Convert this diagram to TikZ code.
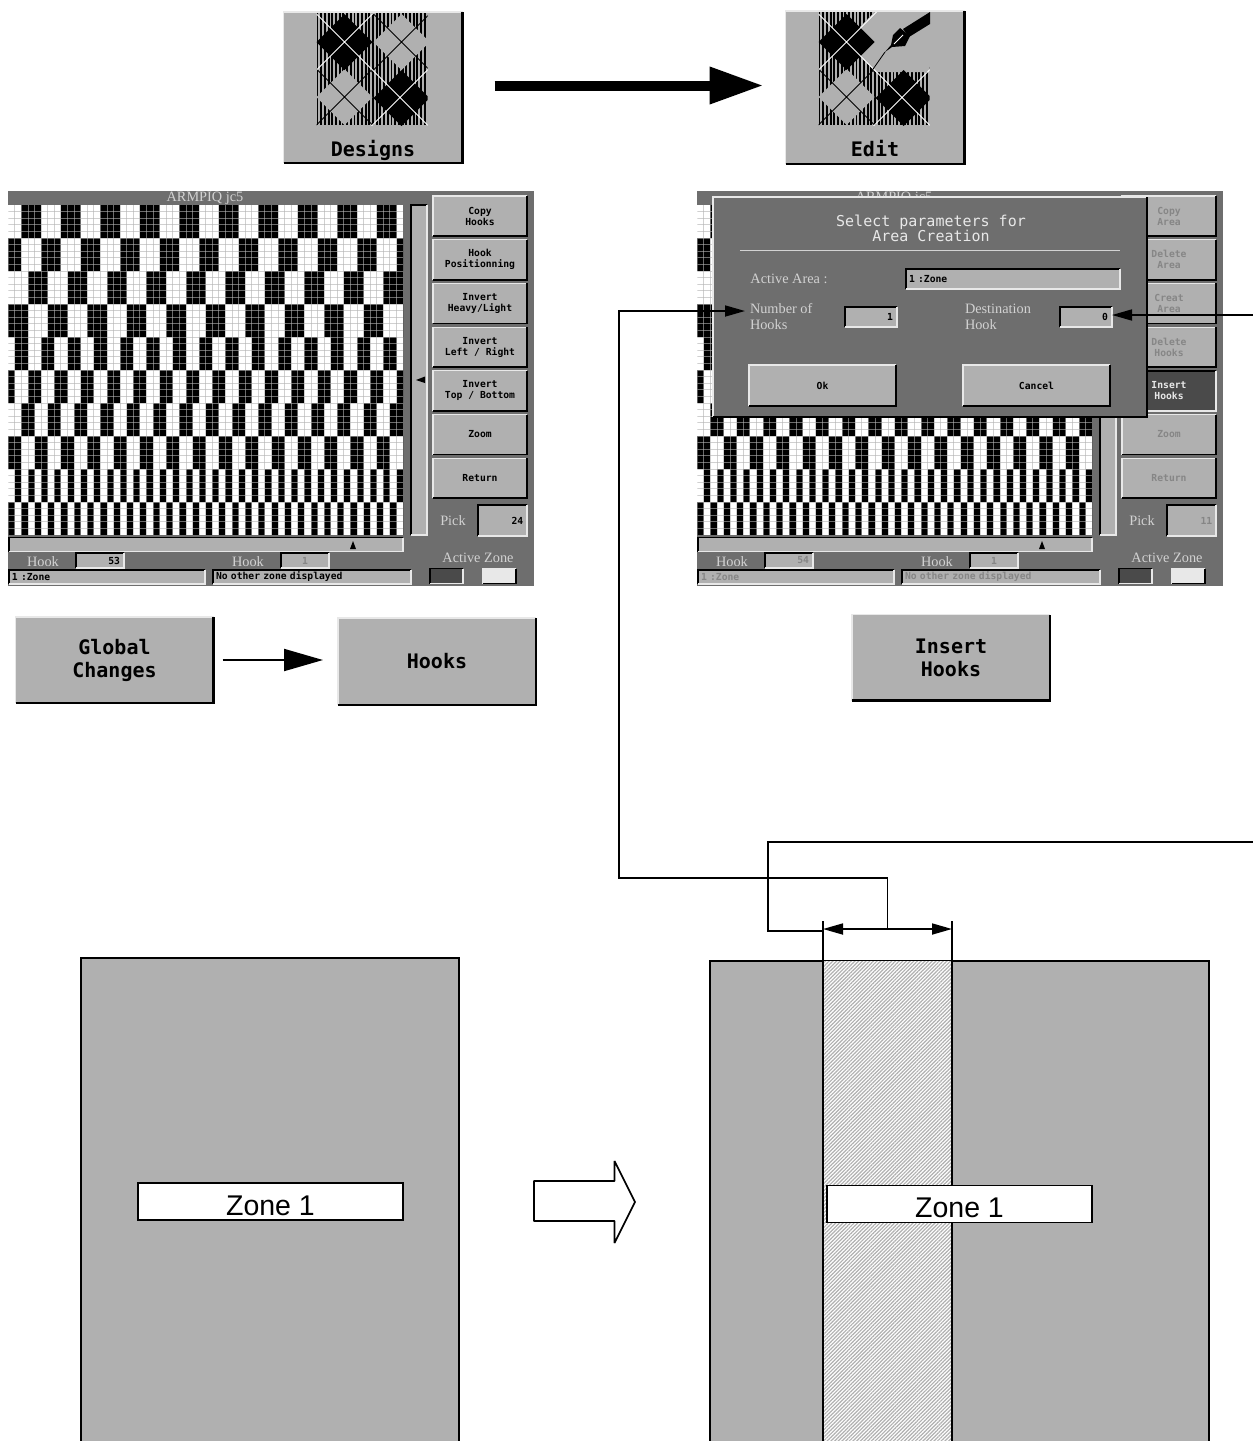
\documentclass[tikz,border=0pt]{standalone}
\usepackage{fontspec}
\setmainfont{Liberation Serif}
\setsansfont{Liberation Sans}
\setmonofont{DejaVu Sans Mono}
\usepackage{tikz}
\usetikzlibrary{arrows.meta,positioning,calc,patterns.meta}
\definecolor{btngray}{HTML}{B0B0B0}
\definecolor{panelgray}{HTML}{6E6E6E}
\definecolor{darkgray}{HTML}{4A4A4A}
\definecolor{lighttxt}{HTML}{D2D2D2}
\definecolor{fadedtxt}{HTML}{868686}
\definecolor{lightbev}{HTML}{E8E8E8}
\newcommand{\bevelup}[2][1.5pt]{%
  \draw[lightbev,line width=1.2pt] (#2.south west) |- (#2.north east);
  \draw[black,line width=#1] (#2.south west) -| (#2.north east);}
\newcommand{\beveldown}[1]{%
  \draw[black,line width=1.5pt] (#1.south west) |- (#1.north east);
  \draw[lightbev,line width=1.5pt] (#1.south west) -| (#1.north east);}
% woven cloth on the screens
\newcommand{\weave}[1]{%
  \begin{scope}[shift={(#1,205)},x=6.58pt,y=-6.6pt]
    \fill[white] (0,0) rectangle (60,50);
    \clip (0,0) rectangle (60,50);
    \foreach \r/\p/\s/\w in {0/6/2/3,5/6/-1/3,10/6/3/3,15/6/0/3,20/4/1/2,
                             25/4/-1/2,30/4/2/2,35/4/0/2,40/2/1/1,45/2/0/1} {
      \foreach \k in {0,...,30}
        \fill[black] ({\s+\k*\p},\r) rectangle ++(\w,5);
    }
    \foreach \c in {1,...,59}
      \draw[gridline] (\c,0) -- (\c,50);
    \foreach \r in {1,...,49}
      \draw[gridline] (0,\r) -- (60,\r);
  \end{scope}}
% argyle picture on the two large buttons
\newcommand{\argyle}[2]{%
  \begin{scope}[shift={(#1,12)}]
    \clip (0,0) rectangle (111,113);
    \foreach \s in {0,...,30}
      \draw[black,line width=1.9pt] ({\s*3.7+1},0) -- ({\s*3.7+1},113);
    \fill[btngray] (85,2) -- (113,30) -- (85,58) -- (57,30) -- cycle;
    \fill[btngray] (28,57) -- (56,85) -- (28,113) -- (0,85) -- cycle;
    \draw[black,line width=.8pt] (115,0) -- (55,60) (57,2) -- (113,58);
    \draw[black,line width=.8pt] (0,57) -- (56,113) (56,57) -- (0,113);
    #2
    \fill[black] (28,2) -- (56,30) -- (28,58) -- (0,30) -- cycle;
    \fill[black] (85,58) -- (113,86) -- (85,114) -- (57,86) -- cycle;
    \draw[white,line width=1pt] (0,2) -- (112,114) (58,0) -- (0,58) (112,57) -- (55,114);
  \end{scope}}
% everything of a screen but its button column
\newcommand{\panelbody}[5]{%
  \begin{scope}[shift={(#2,0)}]
    \fill[panelgray] (8,191) rectangle (533.5,585.5);
    \weave{8.3}
    \node (#1title) [panellbl] at (205,198) {ARMPIQ jc5};
    \node (#1vslide) [fieldbox,minimum width=16pt,minimum height=330pt] at (419,370) {};
    \node (#1hslide) [fieldbox,minimum width=394pt,minimum height=14pt] at (206,544.5) {};
    \fill[black] (416,380) -- (425,376.5) -- (425,383) -- cycle;
    \fill[black] (353,541) -- (356,549) -- (350,549) -- cycle;
    \node (#1pick) [panellbl] at (453,521) {Pick};
    \node (#1pickbox) [fieldbox,text=#5,minimum height=31pt,
      right=12.5pt of #1pick,yshift=.5pt,align=right,text width=41pt,inner xsep=4pt] {#3};
    \node (#1hooka) [panellbl] at (43,562) {Hook};
    \node (#1hookabox) [fieldbox,text=#5,minimum height=15pt,
      align=right,text width=40pt,inner xsep=4pt] at (100,560.5) {#4};
    \node (#1hookb) [panellbl] at (248,562) {Hook};
    \node (#1hookbbox) [fieldbox,text=fadedtxt,minimum width=48pt,minimum height=15pt] at (305,560.5) {1};
    \node (#1statusa) [fieldbox,text=#5,minimum height=14pt,text width=190pt,align=left,inner xsep=3pt] at (107,577) {1 :Zone};
    \node (#1statusb) [fieldbox,text=#5,minimum height=14pt,text width=192pt,align=left,inner xsep=3pt] at (312,577) {No other zone displayed};
    \node (#1active) [panellbl] at (478,558) {Active Zone};
    \node (#1zonea) [fieldbox,fill=darkgray,minimum width=33pt,minimum height=15pt] at (446.5,576) {};
    \node (#1zoneb) [fieldbox,fill=lightbev,minimum width=33pt,minimum height=15pt] at (499.5,576) {};
    \foreach \b in {vslide,hslide,pickbox,hookabox,hookbbox,statusa,statusb,zonea} {
      \beveldown{#1\b}
    }
    \bevelup{#1zoneb}
  \end{scope}}

\begin{document}
\begin{tikzpicture}[
  x=1pt, y=-1pt,
  >={Triangle[length=20pt,width=11pt]},
  every node/.style={outer sep=0pt,inner sep=0pt},
  gridline/.style={white!70!black,opacity=.6,line width=.9pt},
  panellbl/.style={text=lighttxt,font=\fontsize{14.3}{16}\selectfont},
  fieldbox/.style={fill=btngray,font=\fontsize{9.7}{11}\ttfamily\bfseries},
  panelbtn/.style={fill=btngray,minimum width=94pt,minimum height=40pt,align=center,
    font=\fontsize{9.7}{11}\ttfamily\bfseries},
  fadedbtn/.style={panelbtn,text=fadedtxt},
  bigbtn/.style={fill=btngray,minimum width=198pt,minimum height=86pt,align=center,
    font=\fontsize{20}{23}\ttfamily\bfseries},
  iconbtn/.style={fill=btngray,minimum width=179pt,minimum height=151pt},
  iconlbl/.style={font=\fontsize{20}{23}\ttfamily\bfseries,text depth=4.5pt},
  leader/.style={line width=1.7pt},
  zonebox/.style={draw=black,line width=1.7pt,fill=white,minimum width=265pt,minimum height=37pt,
    text height=27pt,text depth=0pt,font=\fontsize{28.5}{30}\sffamily},
  sheet/.style={draw=black,line width=1.7pt,fill=btngray}
]
  \useasboundingbox (0,0) rectangle (1253,1441);

  % Top buttons
  \node (designsbtn) [iconbtn] at (373,87.5) {};
  \node (editbtn) [iconbtn,minimum height=153pt] at (875,87.5) {};
  \argyle{316.5}{}
  \argyle{818.5}{\fill[btngray] (56,0) -- (111,0) -- (111,60) -- (57,60) -- (27,30) -- cycle;}
  \node (designslbl) [iconlbl,above=2pt of designsbtn.south] {Designs};
  \node (editlbl) [iconlbl,above=3pt of editbtn.south] {Edit};
  \bevelup[2.5pt]{designsbtn}
  \bevelup[2.5pt]{editbtn}
  % pen
  \draw[black,line width=.8pt] (871,72) -- (885,52);
  \fill[black] (885,52) -- (892,47) -- (905,46) -- (910,36) -- (900,28) -- (893,35) -- (891,45) -- cycle;
  \fill[black] (903,29) -- (930,12) -- (930,24) -- (909,37) -- cycle;
  \draw[white,line width=.8pt] (894,44) -- (903,35);
  \draw[line width=10pt,-{Triangle[length=54pt,width=35pt]},shorten <=32pt,shorten >=22pt]
    ([yshift=2pt]designsbtn.east) -- ([yshift=2pt]editbtn.west);

  % Left screen
  \panelbody{l}{0}{24}{53}{black}
  \node (lcopy) [panelbtn] at (480,216) {Copy\\Hooks};
  \node (lhook) [panelbtn,below=3.7pt of lcopy] {Hook\\Positionning};
  \node (lheavy) [panelbtn,below=3.7pt of lhook] {Invert\\Heavy/Light};
  \node (lleft) [panelbtn,below=3.7pt of lheavy] {Invert\\Left / Right};
  \node (ltop) [panelbtn,below=3.7pt of lleft] {Invert\\Top / Bottom};
  \node (lzoom) [panelbtn,below=3.7pt of ltop] {Zoom};
  \node (lreturn) [panelbtn,below=3.7pt of lzoom] {Return};
  \foreach \b in {lcopy,lhook,lheavy,lleft,ltop,lzoom,lreturn} {
    \bevelup[1.8pt]{\b}
  }

  % Right screen
  \panelbody{r}{689}{11}{54}{fadedtxt}
  \node (rcopy) [fadedbtn] at (1169,216) {Copy\\Area};
  \node (rdela) [fadedbtn,below=3.7pt of rcopy] {Delete\\Area};
  \node (rcreat) [fadedbtn,below=3.7pt of rdela] {Creat\\Area};
  \node (rdelh) [fadedbtn,below=3.7pt of rcreat] {Delete\\Hooks};
  \node (rinsert) [panelbtn,fill=darkgray,text=lightbev,below=3.7pt of rdelh] {Insert\\Hooks};
  \node (rzoom) [fadedbtn,below=3.7pt of rinsert] {Zoom};
  \node (rreturn) [fadedbtn,below=3.7pt of rzoom] {Return};
  \foreach \b in {rcopy,rdela,rcreat,rdelh,rzoom,rreturn} {
    \bevelup[1.8pt]{\b}
  }
  \beveldown{rinsert}

  % Dialog
  \node (dialog) [fill=panelgray,minimum width=434pt,minimum height=220pt] at (930,307) {};
  \bevelup[1.8pt]{dialog}
  \node (dlgtitle) [text=lightbev,align=center,font=\fontsize{15}{15.5}\ttfamily] at (931,228.5)
    {Select parameters for\\Area Creation};
  \draw[lighttxt,line width=.7pt] (740,250) -- (1120,250);
  \node (activelbl) [panellbl] at (789,279) {Active Area :};
  \node (activebox) [fieldbox,minimum height=20pt,text width=208pt,align=left,inner xsep=3pt] at (1013,279) {1 :Zone};
  \node (numlbl) [panellbl,align=left,anchor=west] at (750,317) {Number of\\Hooks};
  \node (numbox) [fieldbox,minimum height=20pt,align=right,text width=44pt,inner xsep=4pt] at (871,317) {1};
  \node (destlbl) [panellbl,align=left,anchor=west] at (965,317) {Destination\\Hook};
  \node (destbox) [fieldbox,minimum height=20pt,align=right,text width=44pt,inner xsep=4pt] at (1086,317) {0};
  \node (okbtn) [panelbtn,minimum width=147pt,minimum height=41pt] at (822.5,385.5) {Ok};
  \node (cancelbtn) [panelbtn,minimum width=147pt,minimum height=41pt,right=67pt of okbtn] {Cancel};
  \foreach \b in {activebox,numbox,destbox} {
    \beveldown{\b}
  }
  \bevelup{okbtn}
  \bevelup{cancelbtn}

  % Lower buttons
  \node (globalbtn) [bigbtn] at (114.5,660) {Global\\Changes};
  \node (hooksbtn) [bigbtn,minimum height=87pt] at (437,661.5) {Hooks};
  \node (insertbtn) [bigbtn] at (951,657.5) {Insert\\Hooks};
  \foreach \b in {globalbtn,hooksbtn,insertbtn} {
    \bevelup[2.5pt]{\b}
  }
  \draw[line width=2pt,-{Triangle[length=39pt,width=22pt]},shorten <=9pt,shorten >=15pt]
    (globalbtn.east) -- ([yshift=1.5pt]hooksbtn.west);

  % Sheets
  \draw[sheet] (81,1441) -- (81,958) -- (459,958) -- (459,1441);
  \node (zonea) [zonebox] at (270.5,1201.5) {Zone 1};
  \draw[sheet] (710,1441) -- (710,961) -- (1209,961) -- (1209,1441);
  \fill[white] (823,961) rectangle (952,1441);
  \fill[pattern={Lines[angle=45,distance=2.6pt,line width=1.2pt]},pattern color=btngray]
    (823,961) rectangle (952,1441);
  \coordinate (dimL) at (823,929);
  \coordinate (dimR) at (952,929);
  \coordinate (dimM) at ($(dimL)!.5!(dimR)$);
  \draw[leader] (823,921) -- (823,1441);
  \draw[leader] (952,921) -- (952,1441);
  \node (zoneb) [zonebox] at (959.5,1204) {Zone 1};

  % Hollow arrow
  \draw[leader,fill=white,line join=bevel] (534,1181) -- (614.5,1181) -- (614.5,1161)
    -- (635,1202) -- (614.5,1243) -- (614.5,1221) -- (534,1221) -- cycle;

  % Leaders and dimension
  \coordinate (numtip) at (745,311);
  \coordinate (dimS) at (823,931);
  \coordinate (rightA) at (1253,315);
  \coordinate (rightB) at (1253,842);
  \draw[leader,<->] (dimL) -- (dimR);
  \draw[leader,->] (dimM) -- (dimM |- 0,878) -- (619,878) -- (619,311) -- (numtip);
  \draw[leader,->] (rightA) -- ([yshift=2pt]destbox.east);
  \draw[leader] (rightB) -- (768,842) -- (768,931) -- (dimS);
\end{tikzpicture}
\end{document}
